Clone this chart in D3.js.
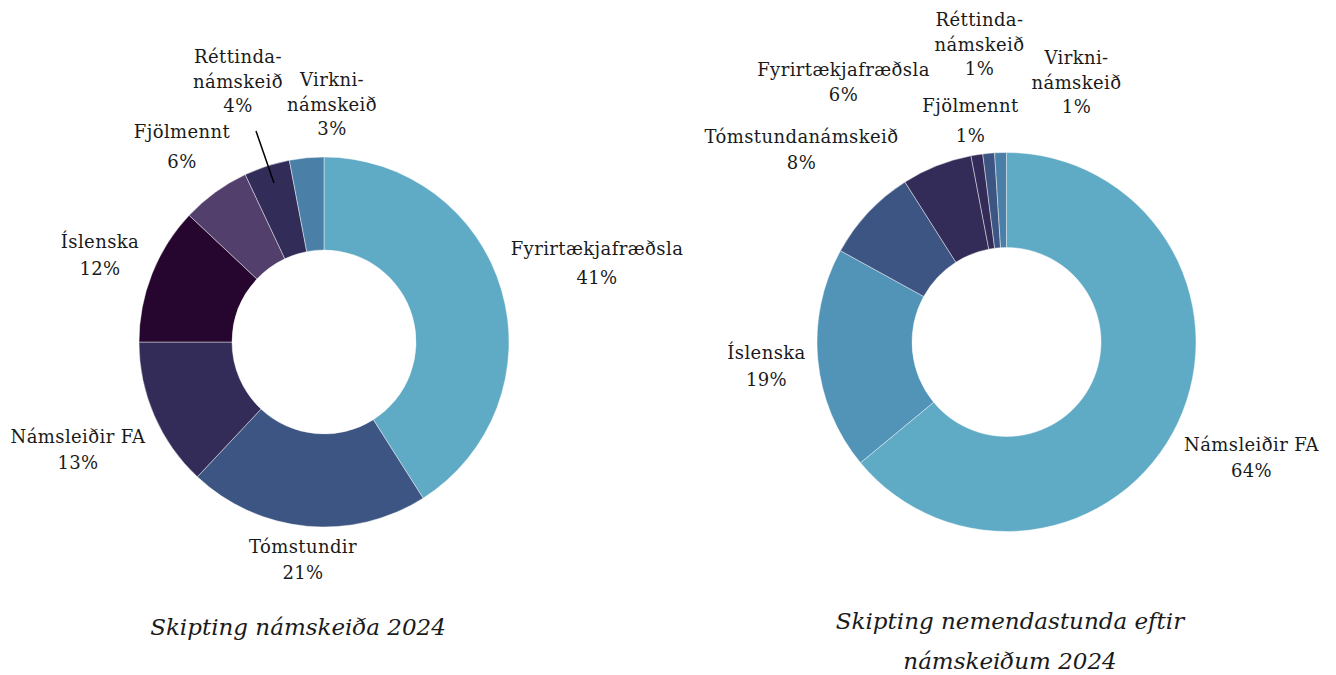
<!DOCTYPE html>
<html>
<head>
<meta charset="utf-8">
<script src="https://cdn.jsdelivr.net/npm/d3@7"></script>
<style>
  html, body { margin: 0; padding: 0; background: #ffffff; }
  svg { display: block; }
  text { font-family: "DejaVu Serif", serif; fill: #1a1a1a; }
</style>
</head>
<body>
<svg id="chart" width="1336" height="675"></svg>
<script>
// ---- Data: chart 1 (Skipting námskeiða 2024) ----
const categories1 = ["Fyrirtækjafræðsla", "Tómstundir", "Námsleiðir FA", "Íslenska", "Fjölmennt", "Réttindanámskeið", "Virkninámskeið"];
const values1 = [41, 21, 13, 12, 6, 4, 3];
const labelLines1 = [["Fyrirtækjafræðsla"], ["Tómstundir"], ["Námsleiðir FA"], ["Íslenska"], ["Fjölmennt"], ["Réttinda-", "námskeið"], ["Virkni-", "námskeið"]];
const title1 = ["Skipting námskeiða 2024"];

// ---- Data: chart 2 (Skipting nemendastunda eftir námskeiðum 2024) ----
const categories2 = ["Námsleiðir FA", "Íslenska", "Tómstundanámskeið", "Fyrirtækjafræðsla", "Fjölmennt", "Réttindanámskeið", "Virkninámskeið"];
const values2 = [64, 19, 8, 6, 1, 1, 1];
const labelLines2 = [["Námsleiðir FA"], ["Íslenska"], ["Tómstundanámskeið"], ["Fyrirtækjafræðsla"], ["Fjölmennt"], ["Réttinda-", "námskeið"], ["Virkni-", "námskeið"]];
const title2 = ["Skipting nemendastunda eftir", "námskeiðum 2024"];

// ---- Styles / layout (kept separate from data) ----
const colors1 = ["#5faac4", "#3d5582", "#332c58", "#26052f", "#523f6b", "#322d58", "#4a80a8"];
const colors2 = ["#5faac4", "#5294b8", "#3d5582", "#332c58", "#332c58", "#3d5582", "#4a80a8"];

// label anchor offsets relative to the donut centre (first line centre / gap between name and %)
const layout1 = {
  cx: 324, cy: 342, outer: 185, inner: 92,
  labels: [
    {dx: 273, dy: -93, gap: 29},
    {dx: -21, dy: 205, gap: 26},
    {dx: -246, dy: 95, gap: 26},
    {dx: -224, dy: -100, gap: 27},
    {dx: -142, dy: -210, gap: 30},
    {dx: -86, dy: -285, gap: 24.5},
    {dx: 8, dy: -262, gap: 24.5}
  ],
  leader: {index: 5, from: [-68, -211], to: [-50, -159]},
  titleX: 298, titleY: 635, titleGap: 40
};
const layout2 = {
  cx: 1006.5, cy: 342, outer: 189.5, inner: 94.5,
  labels: [
    {dx: 245, dy: 103, gap: 26},
    {dx: -240, dy: 11, gap: 27},
    {dx: -205, dy: -205, gap: 26},
    {dx: -163, dy: -272, gap: 25},
    {dx: -36, dy: -236, gap: 30},
    {dx: -27, dy: -322, gap: 24.5},
    {dx: 70, dy: -284, gap: 24.5}
  ],
  leader: null,
  titleX: 1010, titleY: 629, titleGap: 40
};

const svg = d3.select("#chart");

function drawDonut(categories, values, lines, colors, title, L) {
  const g = svg.append("g").attr("transform", `translate(${L.cx},${L.cy})`);
  const pie = d3.pie().sort(null).value(d => d.value);
  const arc = d3.arc().innerRadius(L.inner).outerRadius(L.outer);
  const data = categories.map((c, i) => ({name: c, value: values[i], lines: lines[i], color: colors[i], lab: L.labels[i]}));
  const arcs = pie(data);

  g.selectAll("path.slice")
    .data(arcs)
    .join("path")
    .attr("class", "slice")
    .attr("d", arc)
    .attr("fill", d => d.data.color)
    .attr("stroke", "#ffffff")
    .attr("stroke-opacity", 0.55)
    .attr("stroke-width", 0.8);

  const lbl = g.selectAll("g.lbl")
    .data(arcs)
    .join("g")
    .attr("class", "lbl")
    .attr("transform", d => `translate(${d.data.lab.dx},${d.data.lab.dy})`);

  lbl.each(function(d) {
    const sel = d3.select(this);
    const allLines = d.data.lines.concat([d.data.value + "%"]);
    allLines.forEach((t, k) => {
      let lineY;
      if (k < d.data.lines.length) lineY = k * 24.5;
      else lineY = (d.data.lines.length - 1) * 24.5 + d.data.lab.gap;
      sel.append("text")
        .attr("x", 0)
        .attr("y", lineY)
        .attr("dy", "0.35em")
        .attr("text-anchor", "middle")
        .style("font-size", "18px")
        .style("letter-spacing", "0.4px")
        .text(t);
    });
  });

  if (L.leader) {
    g.append("line")
      .attr("x1", L.leader.from[0]).attr("y1", L.leader.from[1])
      .attr("x2", L.leader.to[0]).attr("y2", L.leader.to[1])
      .attr("stroke", "#000").attr("stroke-width", 1.5);
  }

  title.forEach((t, k) => {
    svg.append("text")
      .attr("x", L.titleX)
      .attr("y", L.titleY + k * L.titleGap)
      .attr("text-anchor", "middle")
      .style("font-style", "italic")
      .style("font-size", "23px")
      .text(t);
  });
}

drawDonut(categories1, values1, labelLines1, colors1, title1, layout1);
drawDonut(categories2, values2, labelLines2, colors2, title2, layout2);
</script>
</body>
</html>
